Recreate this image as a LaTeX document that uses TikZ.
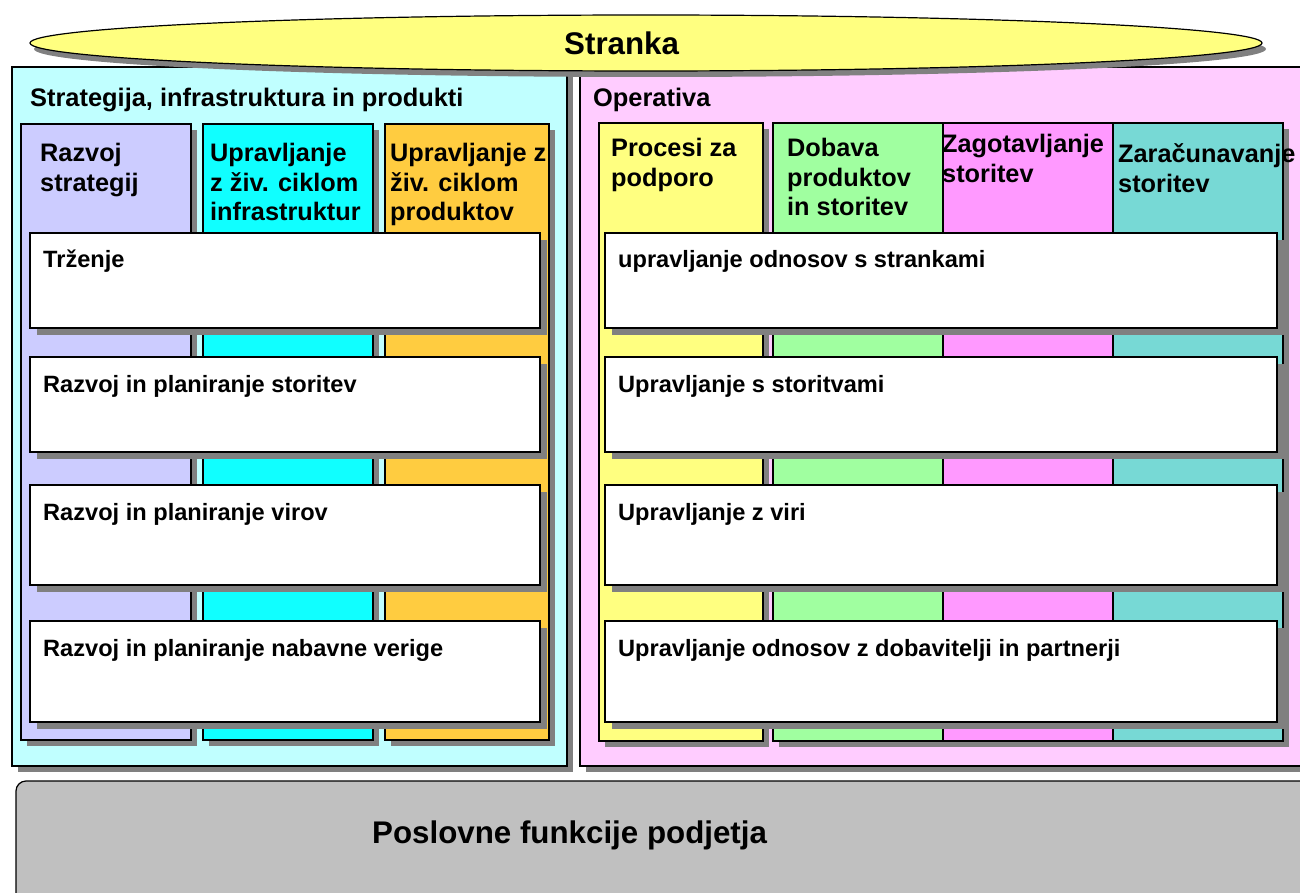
\documentclass[tikz,border=0pt]{standalone}
\usepackage{fontspec}
\setmainfont{Liberation Sans}
\usetikzlibrary{shapes.geometric,shadows}

\definecolor{shade}{HTML}{808080}
\definecolor{ellfill}{HTML}{FFFF80}
\definecolor{leftpanel}{HTML}{C0FFFF}
\definecolor{rightpanel}{HTML}{FFCCFF}
\definecolor{colA}{HTML}{CCCCFF}
\definecolor{colB}{HTML}{10FFFF}
\definecolor{colC}{HTML}{FFCC40}
\definecolor{colD}{HTML}{FFFF80}
\definecolor{colE}{HTML}{A0FFA0}
\definecolor{colF}{HTML}{FF99FF}
\definecolor{colG}{HTML}{77D9D5}
\definecolor{basegray}{HTML}{C0C0C0}

% stacked left-aligned lines, baseline on the first line
\newcommand{\stack}[1]{\begin{tabular}[t]{@{}l@{}}#1\end{tabular}}
% named rectangle: name, style, x1, y1, x2, y2 (pixel-like units, y downwards)
\newcommand{\rectnode}[6]{\node[frame,#2,minimum width={#5-#3},minimum height={#6-#4}] (#1) at (#3,#4) {};}

\begin{document}
\begin{tikzpicture}[x=1pt,y=-1pt,
  frame/.style={draw=black, line width=1.2pt, inner sep=0pt, outer sep=0pt, anchor=north west},
  shadowed/.style={drop shadow={shadow xshift=#1pt, shadow yshift=-#1pt, fill=shade, opacity=1}},
  title/.style={anchor=base west, inner sep=0pt, font=\fontsize{25.4}{29.5}\selectfont\bfseries},
  hdr/.style={anchor=base west, inner sep=0pt, font=\fontsize{25.3}{29.5}\selectfont\bfseries},
  boxtxt/.style={anchor=base west, inner sep=0pt, font=\fontsize{23.6}{28}\selectfont\bfseries},
  big/.style={anchor=base west, inner sep=0pt, font=\fontsize{31.3}{36}\selectfont\bfseries}]

\useasboundingbox (0,0) rectangle (1300,893);

% two main panels
\rectnode{strat}{fill=leftpanel, shadowed=6}{12}{67}{567}{766}
\rectnode{oper}{fill=rightpanel, shadowed=6}{580}{67}{1320}{766}

% columns of the strategy panel
\rectnode{razvoj}{fill=colA, shadowed=6}{21}{124}{191}{740}
\rectnode{infra}{fill=colB, shadowed=6}{203}{124}{373}{740}
\rectnode{prod}{fill=colC, shadowed=6}{385}{124}{549}{740}

% columns of the operations panel
\rectnode{podpora}{fill=colD, shadowed=6}{599}{123}{763}{741}
\rectnode{dobava}{fill=colE, shadowed=6}{773}{123}{943}{741}
\rectnode{zagot}{fill=colF, shadowed=6}{943}{123}{1113}{741}
\rectnode{zarac}{fill=colG, shadowed=6}{1113}{123}{1283}{741}

% horizontal process boxes, left
\rectnode{trz}{fill=white, shadowed=7}{30}{233}{540}{328}
\rectnode{rps}{fill=white, shadowed=7}{30}{357}{540}{452}
\rectnode{rpv}{fill=white, shadowed=7}{30}{485}{540}{585}
\rectnode{rpn}{fill=white, shadowed=7}{30}{621}{540}{722}

% horizontal process boxes, right
\rectnode{uos}{fill=white, shadowed=7}{605}{233}{1277}{328}
\rectnode{uss}{fill=white, shadowed=7}{605}{357}{1277}{452}
\rectnode{uzv}{fill=white, shadowed=7}{605}{485}{1277}{585}
\rectnode{uod}{fill=white, shadowed=7}{605}{621}{1277}{722}

% customer ellipse on top
\node[ellipse, draw=black, fill=ellfill, line width=1.2pt, inner sep=0pt,
      minimum width=1232, minimum height=56,
      drop shadow={shadow xshift=4pt, shadow yshift=-6pt, fill=shade, opacity=1}] (stranka) at (646,43) {};
\node[big] (strankaT) at (564,55) {Stranka};

% company functions base
\node[frame, fill=basegray, rounded corners=10pt, minimum width=1320, minimum height=150] (base) at (16,781) {};
\node[big] (baseT) at (372,843) {Poslovne funkcije podjetja};

% panel titles
\node[title] (stratT) at (30,107) {Strategija, infrastruktura in produkti};
\node[title] (operT) at (593,107) {Operativa};

% column headers
\node[hdr] (razvojT) at (40,162) {\stack{Razvoj\\strategij}};
\node[hdr] (infraT) at (210,162) {\stack{Upravljanje\\z živ. ciklom\\infrastruktur}};
\node[hdr] (prodT) at (390,162) {\stack{Upravljanje z\\živ. ciklom\\produktov}};
\node[hdr] (podporaT) at (611,157) {\stack{Procesi za\\podporo}};
\node[hdr] (dobavaT) at (787,157) {\stack{Dobava\\produktov\\in storitev}};
\node[hdr] (zagotT) at (942,153) {\stack{Zagotavljanje\\storitev}};
\node[hdr] (zaracT) at (1118,163) {\stack{Zaračunavanje\\storitev}};

% process box labels
\node[boxtxt] (trzT) at (43,268) {Trženje};
\node[boxtxt] (rpsT) at (43,392) {Razvoj in planiranje storitev};
\node[boxtxt] (rpvT) at (43,520) {Razvoj in planiranje virov};
\node[boxtxt] (rpnT) at (43,656) {Razvoj in planiranje nabavne verige};
\node[boxtxt] (uosT) at (618,268) {upravljanje odnosov s strankami};
\node[boxtxt] (ussT) at (618,392) {Upravljanje s storitvami};
\node[boxtxt] (uzvT) at (618,520) {Upravljanje z viri};
\node[boxtxt] (uodT) at (618,656) {Upravljanje odnosov z dobavitelji in partnerji};
\end{tikzpicture}
\end{document}
